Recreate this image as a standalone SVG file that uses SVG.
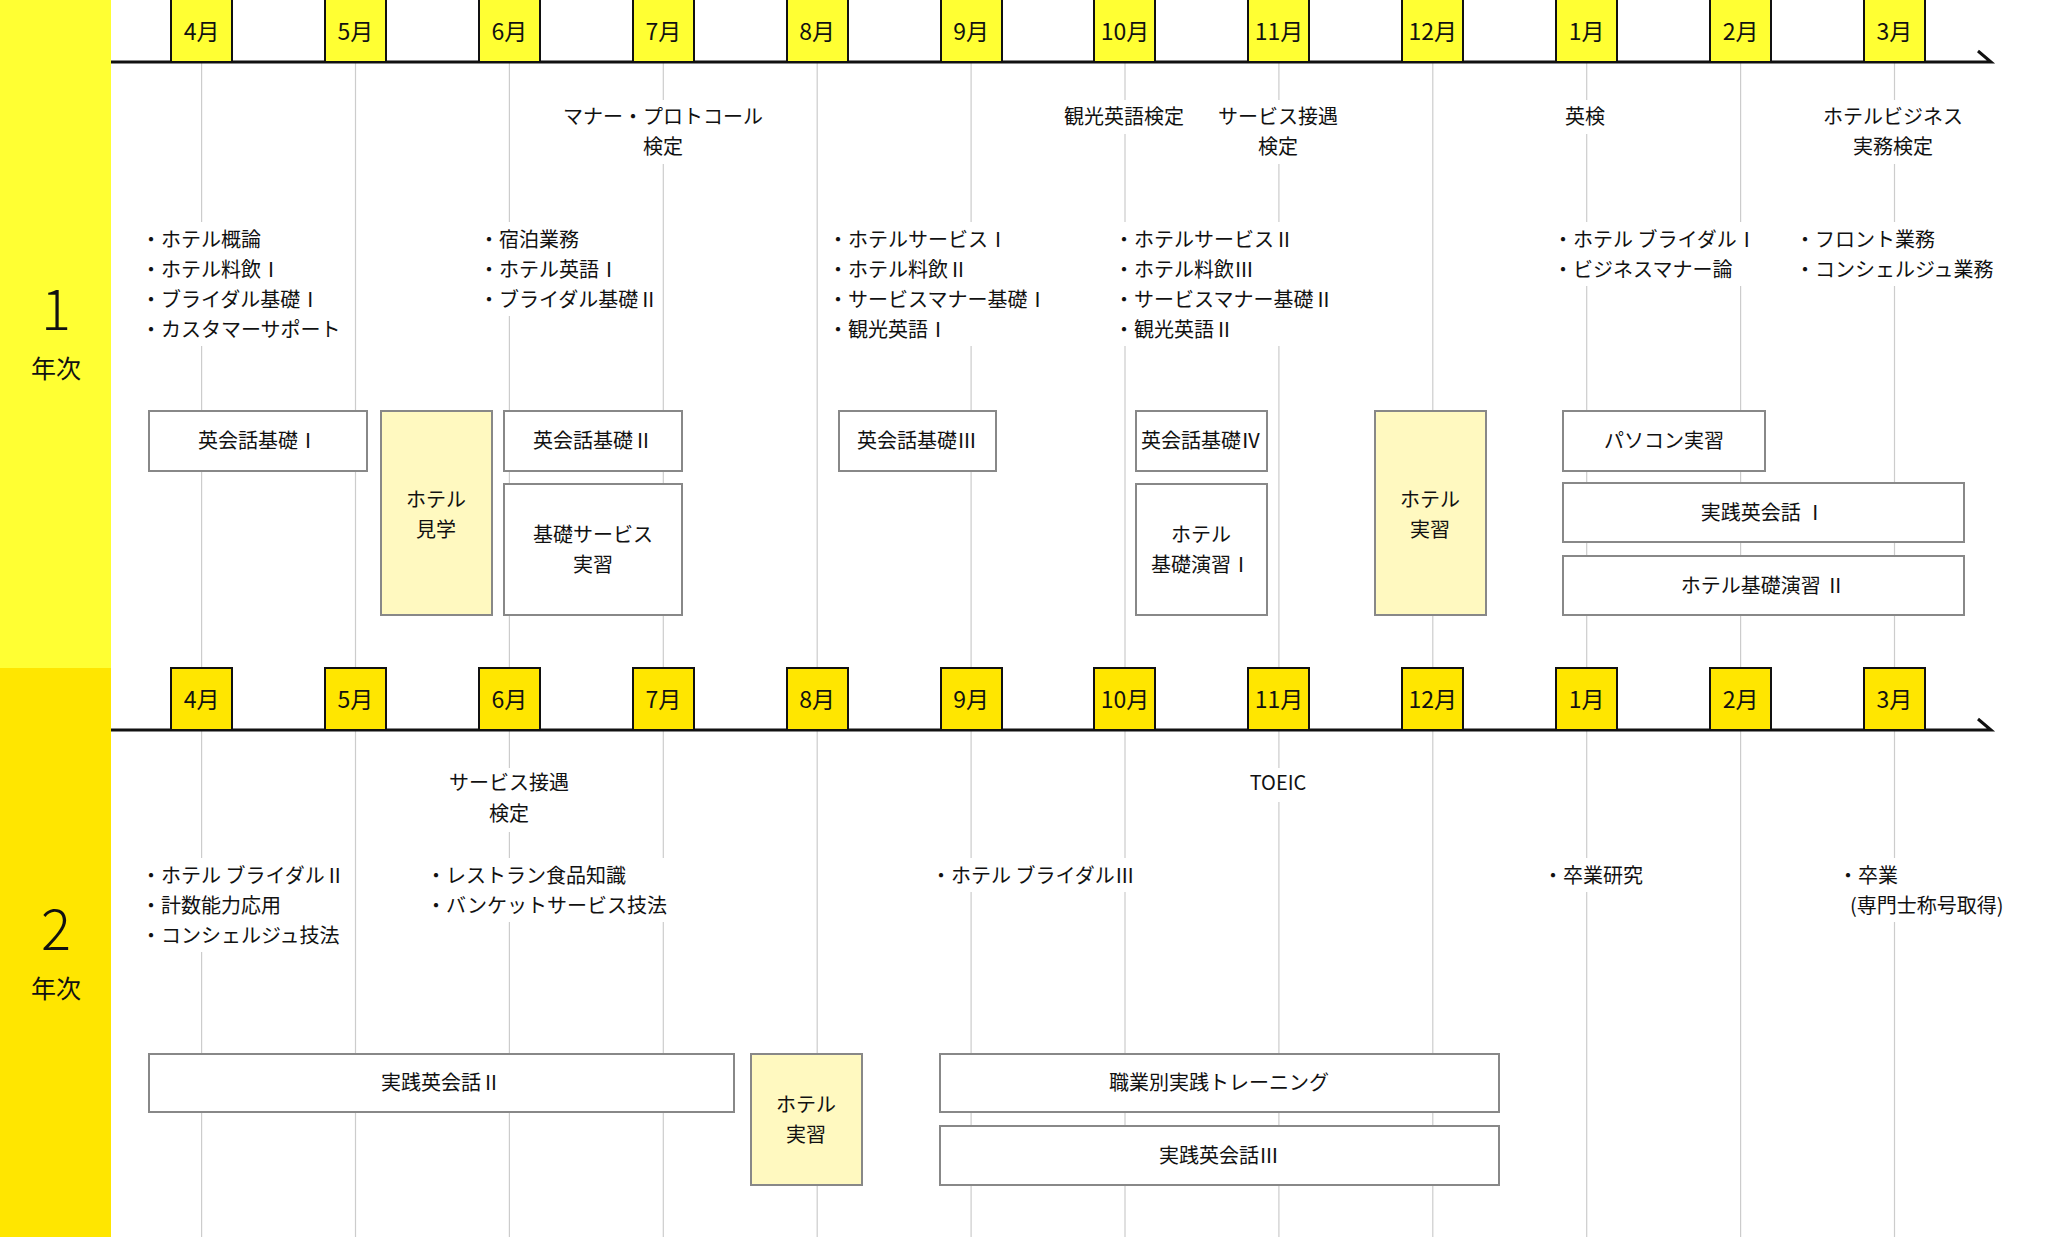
<svg xmlns="http://www.w3.org/2000/svg" width="2072" height="1237" viewBox="0 0 2072 1237">
<style>
text{font-family:"Noto Sans CJK JP","Noto Sans",sans-serif;fill:#111;font-size:20px}
.c{text-anchor:middle}
.m{font-size:23px;text-anchor:middle}
.mb1{fill:#ffff33;stroke:#111;stroke-width:2}
.mb2{fill:#ffe600;stroke:#111;stroke-width:2}
.ax{stroke:#111;stroke-width:3;fill:none}
.vl{stroke:#cccccc;stroke-width:1.2}
.bx{fill:#fff;stroke:#888;stroke-width:2}
.by{fill:#fff9c0;stroke:#888;stroke-width:2}
.w{fill:#fff}
.yr{font-size:56px;text-anchor:middle;font-weight:300}
.yn{font-size:25px;text-anchor:middle}
</style>
<rect width="2072" height="1237" fill="#fff"/>
<g id="band1"><rect x="0" y="0" width="111" height="668" fill="#ffff33"/><text class="yr" x="56" y="330">1</text><text class="yn" x="56" y="378">年次</text></g>
<g id="band2"><rect x="0" y="668" width="111" height="569" fill="#ffe600"/><text class="yr" x="56" y="950">2</text><text class="yn" x="56" y="998">年次</text></g>
<g id="connectors">
<g class="vl">
<line x1="201.6" y1="62" x2="201.6" y2="668"/><line x1="355.5" y1="62" x2="355.5" y2="668"/><line x1="509.4" y1="62" x2="509.4" y2="668"/><line x1="663.3" y1="62" x2="663.3" y2="668"/><line x1="817.2" y1="62" x2="817.2" y2="668"/><line x1="971.1" y1="62" x2="971.1" y2="668"/><line x1="1125" y1="62" x2="1125" y2="668"/><line x1="1278.9" y1="62" x2="1278.9" y2="668"/><line x1="1432.8" y1="62" x2="1432.8" y2="668"/><line x1="1586.7" y1="62" x2="1586.7" y2="668"/><line x1="1740.6" y1="62" x2="1740.6" y2="668"/><line x1="1894.5" y1="62" x2="1894.5" y2="668"/>
<line x1="201.6" y1="730" x2="201.6" y2="1237"/><line x1="355.5" y1="730" x2="355.5" y2="1237"/><line x1="509.4" y1="730" x2="509.4" y2="1237"/><line x1="663.3" y1="730" x2="663.3" y2="1237"/><line x1="817.2" y1="730" x2="817.2" y2="1237"/><line x1="971.1" y1="730" x2="971.1" y2="1237"/><line x1="1125" y1="730" x2="1125" y2="1237"/><line x1="1278.9" y1="730" x2="1278.9" y2="1237"/><line x1="1432.8" y1="730" x2="1432.8" y2="1237"/><line x1="1586.7" y1="730" x2="1586.7" y2="1237"/><line x1="1740.6" y1="730" x2="1740.6" y2="1237"/><line x1="1894.5" y1="730" x2="1894.5" y2="1237"/>
</g>
<path class="ax" d="M111 62H1991L1978 51"/>
<path class="ax" d="M111 730H1991L1978 719"/>
</g>
<g id="months1">
<rect class="mb1" x="171" y="-2" width="61" height="64"/><text class="m" x="201.6" y="40">4月</text>
<rect class="mb1" x="325" y="-2" width="61" height="64"/><text class="m" x="355.5" y="40">5月</text>
<rect class="mb1" x="479" y="-2" width="61" height="64"/><text class="m" x="509.4" y="40">6月</text>
<rect class="mb1" x="633" y="-2" width="61" height="64"/><text class="m" x="663.3" y="40">7月</text>
<rect class="mb1" x="787" y="-2" width="61" height="64"/><text class="m" x="817.2" y="40">8月</text>
<rect class="mb1" x="941" y="-2" width="61" height="64"/><text class="m" x="971.1" y="40">9月</text>
<rect class="mb1" x="1094" y="-2" width="61" height="64"/><text class="m" x="1125" y="40">10月</text>
<rect class="mb1" x="1248" y="-2" width="61" height="64"/><text class="m" x="1278.9" y="40">11月</text>
<rect class="mb1" x="1402" y="-2" width="61" height="64"/><text class="m" x="1432.8" y="40">12月</text>
<rect class="mb1" x="1556" y="-2" width="61" height="64"/><text class="m" x="1586.7" y="40">1月</text>
<rect class="mb1" x="1710" y="-2" width="61" height="64"/><text class="m" x="1740.6" y="40">2月</text>
<rect class="mb1" x="1864" y="-2" width="61" height="64"/><text class="m" x="1894.5" y="40">3月</text>
</g>
<g id="months2">
<rect class="mb2" x="171" y="668" width="61" height="62"/><text class="m" x="201.6" y="708">4月</text>
<rect class="mb2" x="325" y="668" width="61" height="62"/><text class="m" x="355.5" y="708">5月</text>
<rect class="mb2" x="479" y="668" width="61" height="62"/><text class="m" x="509.4" y="708">6月</text>
<rect class="mb2" x="633" y="668" width="61" height="62"/><text class="m" x="663.3" y="708">7月</text>
<rect class="mb2" x="787" y="668" width="61" height="62"/><text class="m" x="817.2" y="708">8月</text>
<rect class="mb2" x="941" y="668" width="61" height="62"/><text class="m" x="971.1" y="708">9月</text>
<rect class="mb2" x="1094" y="668" width="61" height="62"/><text class="m" x="1125" y="708">10月</text>
<rect class="mb2" x="1248" y="668" width="61" height="62"/><text class="m" x="1278.9" y="708">11月</text>
<rect class="mb2" x="1402" y="668" width="61" height="62"/><text class="m" x="1432.8" y="708">12月</text>
<rect class="mb2" x="1556" y="668" width="61" height="62"/><text class="m" x="1586.7" y="708">1月</text>
<rect class="mb2" x="1710" y="668" width="61" height="62"/><text class="m" x="1740.6" y="708">2月</text>
<rect class="mb2" x="1864" y="668" width="61" height="62"/><text class="m" x="1894.5" y="708">3月</text>
</g>
<g id="exams1">
<rect class="w" x="560" y="100" width="206" height="64"/><text class="c" x="663" y="124">マナー・プロトコール</text><text class="c" x="663" y="154">検定</text>
<rect class="w" x="1062" y="100" width="126" height="34"/><text class="c" x="1124" y="124">観光英語検定</text>
<rect class="w" x="1218" y="100" width="122" height="64"/><text class="c" x="1278" y="124">サービス接遇</text><text class="c" x="1278" y="154">検定</text>
<rect class="w" x="1560" y="100" width="50" height="34"/><text class="c" x="1585" y="124">英検</text>
<rect class="w" x="1820" y="100" width="146" height="64"/><text class="c" x="1893" y="124">ホテルビジネス</text><text class="c" x="1893" y="154">実務検定</text>
</g>
<g id="subjects1">
<rect class="w" x="141" y="222" width="200" height="124"/>
<text x="141" y="247">・ホテル概論</text><text x="141" y="277">・ホテル料飲Ⅰ</text><text x="141" y="307">・ブライダル基礎Ⅰ</text><text x="141" y="337">・カスタマーサポート</text>
<rect class="w" x="479" y="222" width="180" height="94"/>
<text x="479" y="247">・宿泊業務</text><text x="479" y="277">・ホテル英語Ⅰ</text><text x="479" y="307">・ブライダル基礎Ⅱ</text>
<rect class="w" x="828" y="222" width="220" height="124"/>
<text x="828" y="247">・ホテルサービスⅠ</text><text x="828" y="277">・ホテル料飲Ⅱ</text><text x="828" y="307">・サービスマナー基礎Ⅰ</text><text x="828" y="337">・観光英語Ⅰ</text>
<rect class="w" x="1114" y="222" width="225" height="124"/>
<text x="1114" y="247">・ホテルサービスⅡ</text><text x="1114" y="277">・ホテル料飲Ⅲ</text><text x="1114" y="307">・サービスマナー基礎Ⅱ</text><text x="1114" y="337">・観光英語Ⅱ</text>
<rect class="w" x="1553" y="222" width="200" height="64"/>
<text x="1553" y="247">・ホテル ブライダルⅠ</text><text x="1553" y="277">・ビジネスマナー論</text>
<rect class="w" x="1795" y="222" width="210" height="64"/>
<text x="1795" y="247">・フロント業務</text><text x="1795" y="277">・コンシェルジュ業務</text>
</g>
<g id="n-eikaiwa1"><rect class="bx" x="149" y="411" width="218" height="60"/><text class="c" x="258" y="448">英会話基礎Ⅰ</text></g>
<g id="n-kengaku"><rect class="by" x="381" y="411" width="111" height="204"/><text class="c" x="436" y="507">ホテル</text><text class="c" x="436" y="537">見学</text></g>
<g id="n-eikaiwa2"><rect class="bx" x="504" y="411" width="178" height="60"/><text class="c" x="593" y="448">英会話基礎Ⅱ</text></g>
<g id="n-kiso-service"><rect class="bx" x="504" y="484" width="178" height="131"/><text class="c" x="593" y="542">基礎サービス</text><text class="c" x="593" y="572">実習</text></g>
<g id="n-eikaiwa3"><rect class="bx" x="839" y="411" width="157" height="60"/><text class="c" x="917" y="448">英会話基礎Ⅲ</text></g>
<g id="n-eikaiwa4"><rect class="bx" x="1136" y="411" width="131" height="60"/><text class="c" x="1201" y="448">英会話基礎Ⅳ</text></g>
<g id="n-enshu1"><rect class="bx" x="1136" y="484" width="131" height="131"/><text class="c" x="1201" y="542">ホテル</text><text class="c" x="1201" y="572">基礎演習Ⅰ</text></g>
<g id="n-jisshu1"><rect class="by" x="1375" y="411" width="111" height="204"/><text class="c" x="1430" y="507">ホテル</text><text class="c" x="1430" y="537">実習</text></g>
<g id="n-pc"><rect class="bx" x="1563" y="411" width="202" height="60"/><text class="c" x="1664" y="448">パソコン実習</text></g>
<g id="n-jissen1"><rect class="bx" x="1563" y="483" width="401" height="59"/><text class="c" x="1763" y="520">実践英会話 Ⅰ</text></g>
<g id="n-enshu2"><rect class="bx" x="1563" y="556" width="401" height="59"/><text class="c" x="1763" y="593">ホテル基礎演習 Ⅱ</text></g>
<g id="exams2">
<rect class="w" x="448" y="768" width="122" height="64"/><text class="c" x="509" y="790">サービス接遇</text><text class="c" x="509" y="821">検定</text>
<rect class="w" x="1245" y="768" width="66" height="34"/><text class="c" x="1278" y="790">TOEIC</text>
</g>
<g id="subjects2">
<rect class="w" x="141" y="858" width="205" height="94"/>
<text x="141" y="883">・ホテル ブライダルⅡ</text><text x="141" y="913">・計数能力応用</text><text x="141" y="943">・コンシェルジュ技法</text>
<rect class="w" x="426" y="858" width="240" height="64"/>
<text x="426" y="883">・レストラン食品知識</text><text x="426" y="913">・バンケットサービス技法</text>
<rect class="w" x="931" y="858" width="210" height="34"/>
<text x="931" y="883">・ホテル ブライダルⅢ</text>
<rect class="w" x="1543" y="858" width="120" height="34"/>
<text x="1543" y="883">・卒業研究</text>
<rect class="w" x="1838" y="858" width="184" height="64"/>
<text x="1838" y="883">・卒業</text><text x="1850" y="913">(専門士称号取得)</text>
</g>
<g id="n-jissen2"><rect class="bx" x="149" y="1054" width="585" height="58"/><text class="c" x="441" y="1090">実践英会話Ⅱ</text></g>
<g id="n-jisshu2"><rect class="by" x="751" y="1054" width="111" height="131"/><text class="c" x="806" y="1112">ホテル</text><text class="c" x="806" y="1142">実習</text></g>
<g id="n-training"><rect class="bx" x="940" y="1054" width="559" height="58"/><text class="c" x="1219" y="1090">職業別実践トレーニング</text></g>
<g id="n-jissen3"><rect class="bx" x="940" y="1126" width="559" height="59"/><text class="c" x="1219" y="1163">実践英会話Ⅲ</text></g>
</svg>
